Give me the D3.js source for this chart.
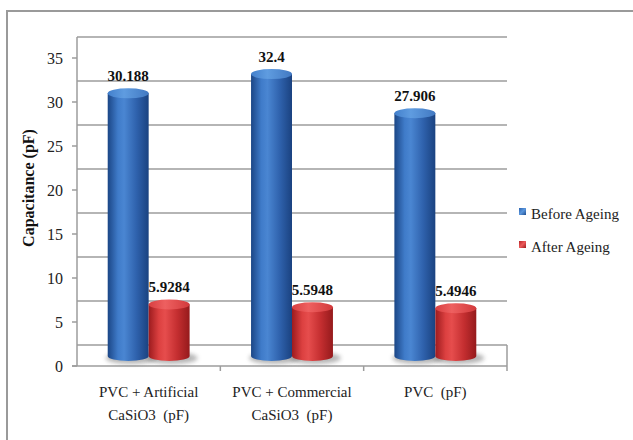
<!DOCTYPE html>
<html><head><meta charset="utf-8">
<script src="https://cdn.jsdelivr.net/npm/d3@7"></script>
<style>body{margin:0;background:#fff}svg{display:block}
svg text{font-family:"Liberation Serif","Tinos","Times New Roman","DejaVu Serif",serif;}
</style>
</head><body>
<svg id="c" width="633" height="440"></svg>
<script>
const categories = [["PVC + Artificial","CaSiO3  (pF)"],["PVC + Commercial","CaSiO3  (pF)"],["PVC  (pF)"]];
const seriesNames = ["Before Ageing","After Ageing"];
const beforeAgeing = [30.188, 32.4, 27.906];
const afterAgeing = [5.9284, 5.5948, 5.4946];
const beforeLabels = ["30.188","32.4","27.906"];
const afterLabels = ["5.9284","5.5948","5.4946"];
const yTicks = [0,5,10,15,20,25,30,35];

const svg = d3.select("#c");
const depth = 21;
const left = 77, right = 507, floorFront = 366;

const yFront = d3.scaleLinear().domain([0,35]).range([floorFront, 58]);
const yBack = v => yFront(v) - depth;
const yBar = d3.scaleLinear().domain([0,35]).range([356, 356 - 35*8.7]);
const x0 = d3.scaleBand().domain(d3.range(categories.length)).range([left, right]).paddingInner(0).paddingOuter(0);
const x1 = d3.scaleBand().domain(seriesNames).range([0, x0.bandwidth()]).paddingInner(0).paddingOuter(0.75);

const defs = svg.append("defs");
function grad(id, stops, x2="100%", y2="0%") {
  const g = defs.append("linearGradient").attr("id", id).attr("x1","0%").attr("y1","0%").attr("x2",x2).attr("y2",y2);
  stops.forEach(s => g.append("stop").attr("offset", s[0]).attr("stop-color", s[1]));
}
grad("bBody", [["0%","#1b4686"],["25%","#3f7bc9"],["40%","#4a86d2"],["70%","#2f62ad"],["100%","#1a4280"]]);
grad("bTop", [["0%","#4380cc"],["40%","#5f9ce0"],["100%","#4279c2"]]);
grad("rBody", [["0%","#9c1b1e"],["25%","#dc4040"],["40%","#e64d4d"],["70%","#c42e30"],["100%","#951a1c"]]);
grad("rTop", [["0%","#d83f41"],["40%","#ee6060"],["100%","#d23a3c"]]);
grad("bLeg", [["0%","#2c63b0"],["50%","#5a96dc"],["100%","#1f4d90"]], "100%", "100%");
grad("rLeg", [["0%","#b52427"],["50%","#ec5a5a"],["100%","#9c1c1e"]], "100%", "100%");
const blur = defs.append("filter").attr("id","sh").attr("x","-50%").attr("y","-100%").attr("width","200%").attr("height","300%");
blur.append("feGaussianBlur").attr("stdDeviation", 2.2);

// outer border
svg.append("rect").attr("x",7).attr("y",11).attr("width",700).attr("height",500)
  .attr("fill","none").attr("stroke","#9a9a9a").attr("stroke-width",2);

const lineC = "#9c9c9c";
// back wall gridlines
svg.append("g").selectAll("line").data(yTicks).join("line")
  .attr("x1", left).attr("x2", right).attr("y1", d => yBack(d)).attr("y2", d => yBack(d))
  .attr("stroke", lineC).attr("stroke-width", 1.5);
// left wall / axis line
svg.append("line").attr("x1",left).attr("x2",left).attr("y1",yBack(35)).attr("y2",floorFront)
  .attr("stroke",lineC).attr("stroke-width",1.5);
// floor
svg.append("line").attr("x1",right).attr("x2",right).attr("y1",yBack(0)).attr("y2",floorFront+5)
  .attr("stroke",lineC).attr("stroke-width",1.5);
svg.append("line").attr("x1",left-5).attr("x2",right).attr("y1",floorFront).attr("y2",floorFront)
  .attr("stroke",lineC).attr("stroke-width",1.5);
// category ticks
svg.append("g").selectAll("line").data(d3.range(1, categories.length)).join("line")
  .attr("x1", d => x0(d)).attr("x2", d => x0(d)).attr("y1", floorFront).attr("y2", floorFront+5)
  .attr("stroke",lineC).attr("stroke-width",1.5);
// y ticks
svg.append("g").selectAll("line").data(yTicks).join("line")
  .attr("x1", left-5).attr("x2", left).attr("y1", d => yFront(d)).attr("y2", d => yFront(d))
  .attr("stroke",lineC).attr("stroke-width",1.5);
svg.append("g").selectAll("text").data(yTicks).join("text")
  .attr("x", 63).attr("y", d => yFront(d) + 5.5).attr("text-anchor","end")
  .attr("font-size",16).attr("fill","#222").text(d => d);

// axis title
svg.append("text").attr("transform","translate(34,188) rotate(-90)").attr("text-anchor","middle")
  .attr("font-size",16).attr("font-weight","bold").attr("fill","#111")
  .text("Capacitance (pF)");

// bars
const data = [];
categories.forEach((c,i) => {
  data.push({cat:i, s:seriesNames[0], v:beforeAgeing[i], lab:beforeLabels[i], body:"bBody", top:"bTop"});
  data.push({cat:i, s:seriesNames[1], v:afterAgeing[i], lab:afterLabels[i], body:"rBody", top:"rTop"});
});
const ry = 5;
const gBars = svg.append("g");
gBars.selectAll("ellipse.sh").data(data).join("ellipse").attr("class","sh")
  .attr("cx", d => x0(d.cat) + x1(d.s) + x1.bandwidth()/2 + 3)
  .attr("cy", yBar(0) + 2)
  .attr("rx", x1.bandwidth()/2 + 5).attr("ry", ry + 1)
  .attr("fill","#7a7a7a").attr("opacity",0.55).attr("filter","url(#sh)");
const bar = gBars.selectAll("g.bar").data(data).join("g").attr("class","bar");
bar.append("path").attr("d", d => {
  const xa = x0(d.cat) + x1(d.s), w = x1.bandwidth(), yt = yBar(d.v), yb = yBar(0);
  return `M${xa},${yt} L${xa},${yb} A${w/2},${ry} 0 0 0 ${xa+w},${yb} L${xa+w},${yt} Z`;
}).attr("fill", d => `url(#${d.body})`);
bar.append("ellipse")
  .attr("cx", d => x0(d.cat) + x1(d.s) + x1.bandwidth()/2)
  .attr("cy", d => yBar(d.v)).attr("rx", x1.bandwidth()/2).attr("ry", ry)
  .attr("fill", d => `url(#${d.top})`);
bar.append("text")
  .attr("x", d => x0(d.cat) + x1(d.s) + x1.bandwidth()/2)
  .attr("y", d => yBar(d.v) - ry - 7).attr("text-anchor","middle")
  .attr("font-size",15).attr("font-weight","bold").attr("fill","#111")
  .text(d => d.lab);

// category labels
const cl = svg.append("g").selectAll("text").data(categories).join("text")
  .attr("text-anchor","middle").attr("font-size",15).attr("fill","#222")
  .attr("transform", (d,i) => `translate(${x0(i)+x0.bandwidth()/2},397)`);
cl.selectAll("tspan").data(d => d).join("tspan").attr("x",0).attr("y",(d,j)=>j*23)
  .style("white-space","pre").text(d => d);

// legend
const legColors = ["bLeg","rLeg"];
const leg = svg.append("g").selectAll("g").data(seriesNames).join("g")
  .attr("transform",(d,i)=>`translate(519,${208 + i*33})`);
leg.append("rect").attr("width",7).attr("height",7).attr("fill",(d,i)=>`url(#${legColors[i]})`);
leg.append("text").attr("x",12).attr("y",11).attr("font-size",15)
  .attr("fill","#222").text(d=>d);
</script>
</body></html>
